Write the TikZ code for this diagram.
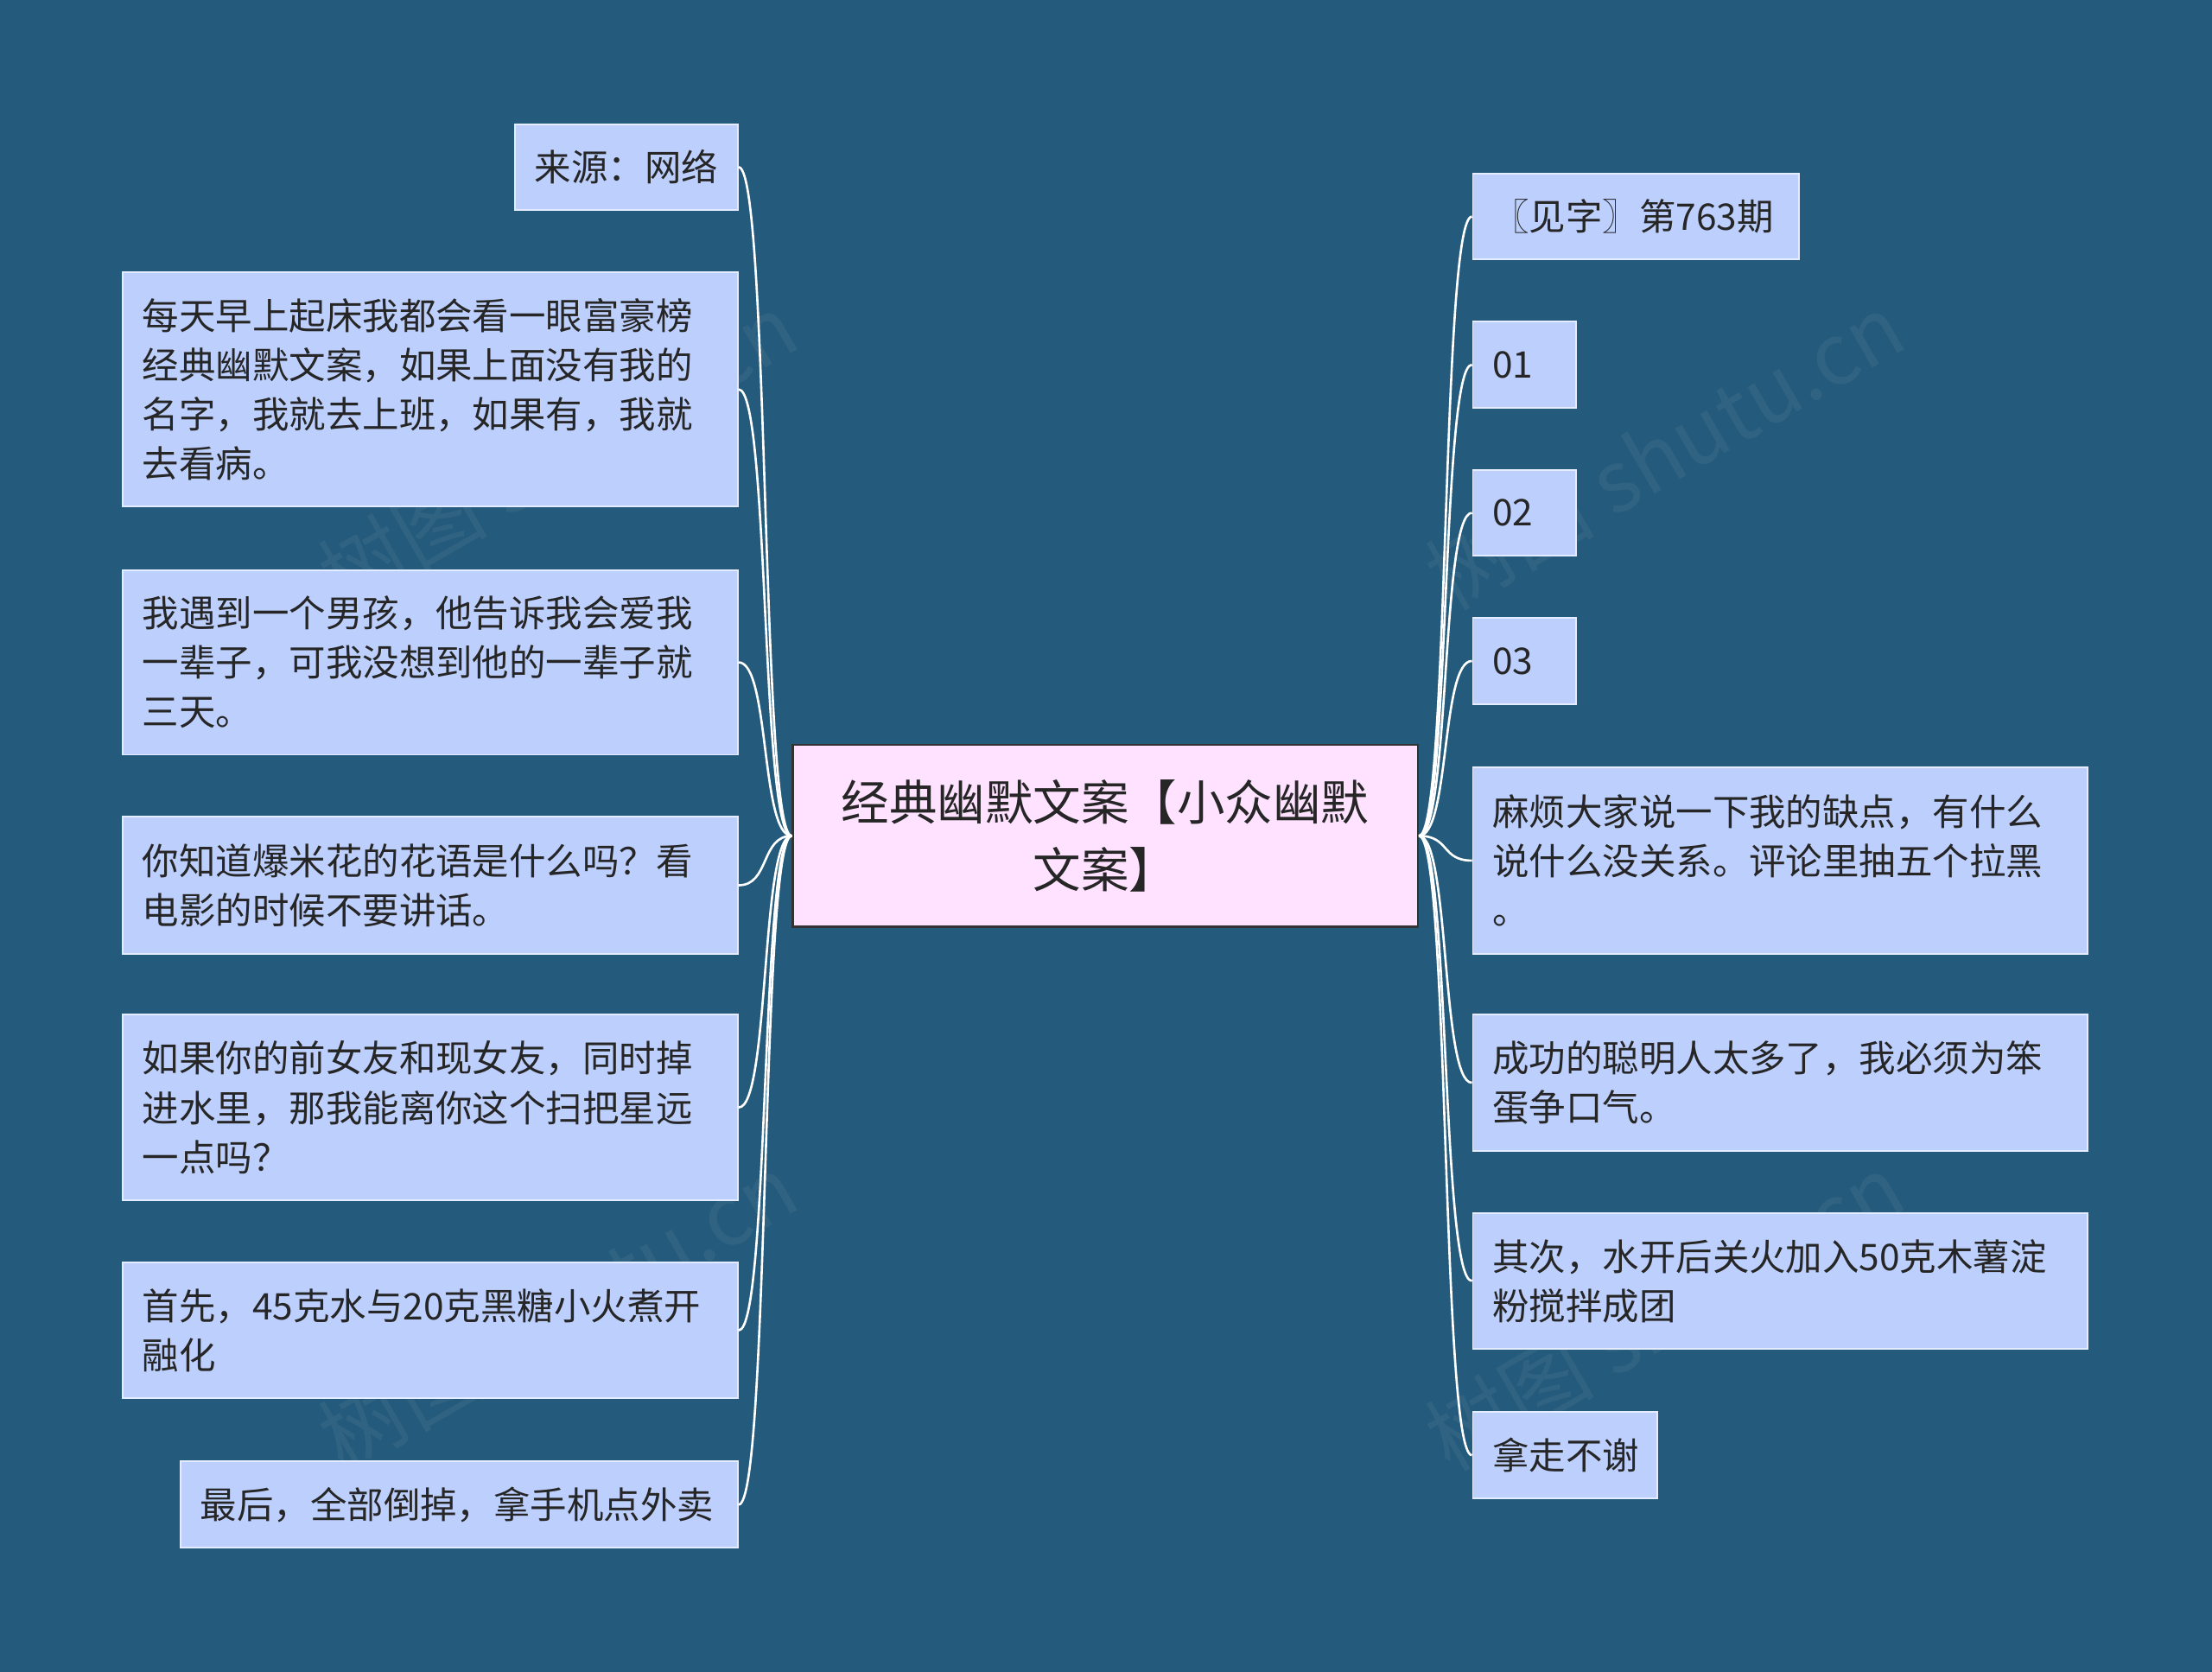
\documentclass[tikz,border=0pt]{standalone}
\usepackage{fontspec}
\newfontfamily\cjk{Noto Sans CJK SC}
\begin{document}
\begin{tikzpicture}[x=0.5pt,y=-0.5pt,
  box/.style={draw=bordc, fill=boxc, line width=0.6pt, inner sep=0pt, font=\cjk\fontsize{13pt}{17.5pt}\selectfont, text=black!85, align=left},
  conn/.style={draw=white, line width=0.8pt}]
\definecolor{bg}{HTML}{245A7B}
\definecolor{boxc}{HTML}{BCCFFD}
\definecolor{bordc}{HTML}{E4ECFF}
\definecolor{cen}{HTML}{FFE2FF}
\fill[bg] (0,0) rectangle (1568,1185);
\useasboundingbox (0,0) rectangle (1568,1185);
\newcommand\bx[6]{%
  \pgfmathsetmacro\bw{(#4-#2)*0.5}\pgfmathsetmacro\bh{(#5-#3)*0.5}\pgfmathsetmacro\tw{(#4-#2-28)*0.5}%
  \node[box, minimum width=\bw pt, minimum height=\bh pt, text width=\tw pt] (#1) at ({(#2+#4)/2},{(#3+#5)/2}) {#6};}
\begin{scope}[opacity=0.06,text=white,font=\cjk\fontsize{30pt}{30pt}\selectfont]
\node[rotate=30] (w1) at (395,320) {树图 shutu.cn};
\node[rotate=30] (w2) at (1180,320) {树图 shutu.cn};
\node[rotate=30] (w3) at (395,930) {树图 shutu.cn};
\node[rotate=30] (w4) at (1180,930) {树图 shutu.cn};
\end{scope}
\node[draw=black!80, fill=cen, line width=0.8pt, minimum width=221.5pt, minimum height=64.5pt, align=center, font=\cjk\fontsize{17pt}{24pt}\selectfont, text=black!85] (c) at (783.5,592.5) {经典幽默文案【小众幽默\\文案】};
\bx{l1}{365}{88}{523}{149}{来源：网络}
\bx{l2}{87}{193}{523}{359}{每天早上起床我都会看一眼富豪榜\\经典幽默文案，如果上面没有我的\\名字，我就去上班，如果有，我就\\去看病。}
\bx{l3}{87}{404}{523}{535}{我遇到一个男孩，他告诉我会爱我\\一辈子，可我没想到他的一辈子就\\三天。}
\bx{l4}{87}{579}{523}{676}{你知道爆米花的花语是什么吗？看\\电影的时候不要讲话。}
\bx{l5}{87}{719}{523}{851}{如果你的前女友和现女友，同时掉\\进水里，那我能离你这个扫把星远\\一点吗？}
\bx{l6}{87}{895}{523}{991}{首先，45克水与20克黑糖小火煮开\\融化}
\bx{l7}{128}{1036}{523}{1097}{最后，全部倒掉，拿手机点外卖}
\bx{r1}{1044}{123}{1275}{184}{〖见字〗第763期}
\bx{r2}{1044}{228}{1117}{289}{01}
\bx{r3}{1044}{333}{1117}{394}{02}
\bx{r4}{1044}{438}{1117}{499}{03}
\bx{r5}{1044}{544}{1480}{676}{麻烦大家说一下我的缺点，有什么\\说什么没关系。评论里抽五个拉黑\\。}
\bx{r6}{1044}{719}{1480}{816}{成功的聪明人太多了，我必须为笨\\蛋争口气。}
\bx{r7}{1044}{860}{1480}{956}{其次，水开后关火加入50克木薯淀\\粉搅拌成团}
\bx{r8}{1044}{1001}{1175}{1062}{拿走不谢}
\foreach \n in {l1,l2,l3,l4,l5,l6,l7}
  \draw[conn] (c.west) .. controls +(-22,0) and +(22,0) .. (\n.east);
\foreach \n in {r1,r2,r3,r4,r5,r6,r7,r8}
  \draw[conn] (c.east) .. controls +(22,0) and +(-22,0) .. (\n.west);
\end{tikzpicture}
\end{document}
